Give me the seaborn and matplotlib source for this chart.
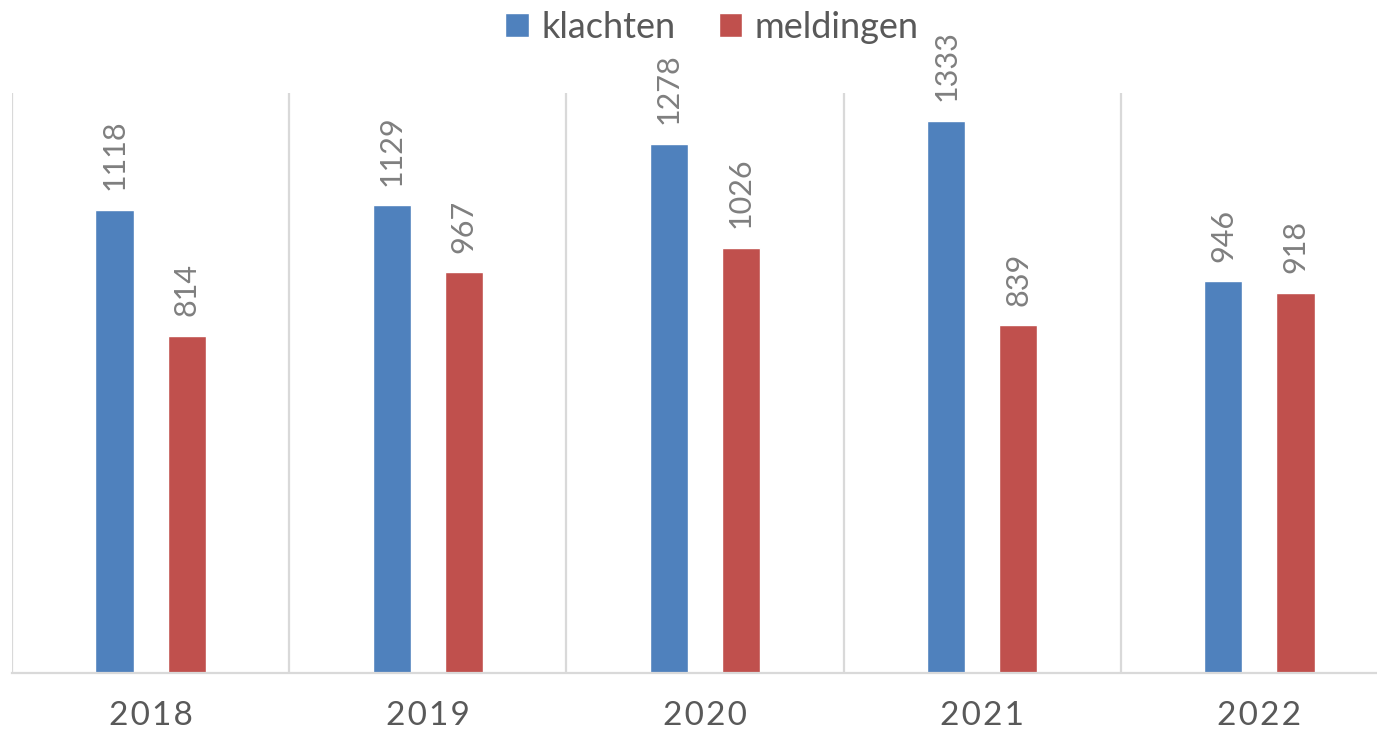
import pandas as pd
import seaborn as sns
import matplotlib.pyplot as plt
from matplotlib.ticker import FixedLocator

years = ['2018', '2019', '2020', '2021', '2022']
klachten = [1118, 1129, 1278, 1333, 946]
meldingen = [814, 967, 1026, 839, 918]
series = ['klachten', 'meldingen']
colors = ['#4F81BD', '#C0504D']

df = pd.DataFrame({
    'jaar': years * 2,
    'aantal': klachten + meldingen,
    'soort': ['klachten'] * len(years) + ['meldingen'] * len(years),
})

sns.set_style('white')
plt.rcParams['font.family'] = ['Lato', 'DejaVu Sans']

fig = plt.figure(figsize=(13.77, 7.34), dpi=100)
ax = fig.add_axes([12 / 1377, 61 / 734, 1386 / 1377, 580 / 734])

sns.barplot(data=df, x='jaar', y='aantal', hue='soort', hue_order=series,
            palette=colors, width=0.52, gap=0.47, saturation=1, ax=ax)

for c in ax.containers:
    ax.bar_label(c, rotation=90, padding=14, fontsize=22, color='#7f7f7f')

ax.set_ylim(0, 1400)
ax.set_xlim(-0.5, 4.5)
ax.set_yticks([])
ax.set_xlabel('')
ax.set_ylabel('')
# years drawn with a little letter spacing
ax.set_xticks(range(len(years)))
ax.set_xticklabels(['\u200a'.join(y) for y in years])
ax.xaxis.set_minor_locator(FixedLocator([i - 0.5 for i in range(len(years) + 1)]))
ax.grid(axis='x', which='minor', color='#d9d9d9', linewidth=1.6)
ax.tick_params(axis='x', which='both', length=0, labelsize=24, labelcolor='#595959', pad=20)
for s in ['top', 'right', 'left']:
    ax.spines[s].set_visible(False)
ax.spines['bottom'].set_color('#d9d9d9')
ax.spines['bottom'].set_linewidth(1.6)

ax.legend(loc='center', bbox_to_anchor=(712 / 1377, 1 - 27 / 734), bbox_transform=fig.transFigure,
          ncol=2, frameon=False, fontsize=26, labelcolor='#595959',
          handlelength=0.65, handleheight=0.65, handletextpad=0.35, columnspacing=1.2)

fig.savefig('out.png', dpi=100)
